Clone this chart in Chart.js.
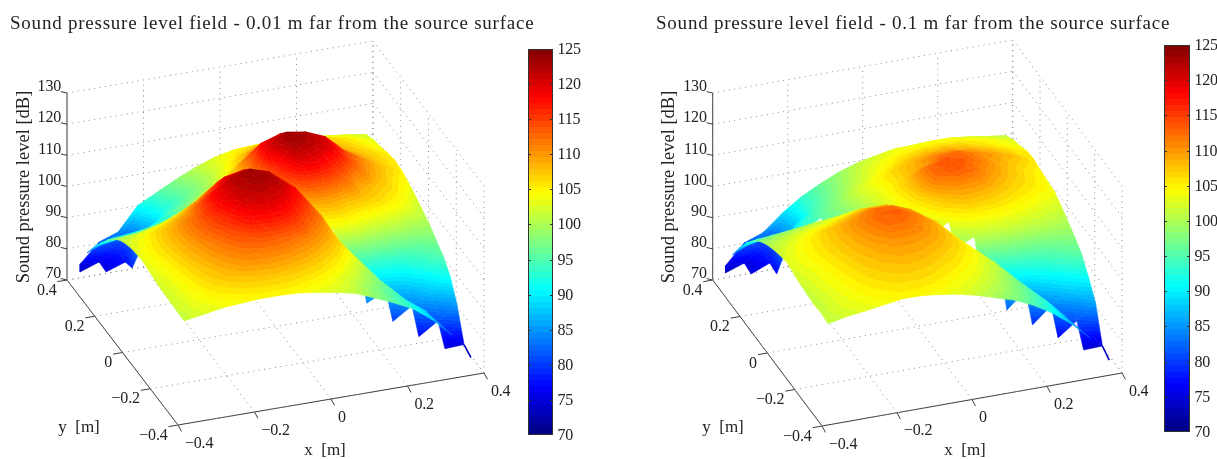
<!DOCTYPE html>
<html><head><meta charset="utf-8">
<style>
html,body{margin:0;padding:0;background:#fff;width:1217px;height:459px;overflow:hidden}
canvas{position:absolute;display:block}
</style>
<script src="https://cdn.jsdelivr.net/npm/chart.js@4"></script>
</head><body>
<div style="position:absolute;left:0;top:0;width:640px;height:459px"><canvas id="s1"></canvas></div>
<div style="position:absolute;left:640px;top:0;width:577px;height:459px"><canvas id="s2"></canvas></div>
<div style="position:absolute;left:528px;top:49px;width:25px;height:386px"><canvas id="c1"></canvas></div>
<div style="position:absolute;left:1164px;top:45px;width:26px;height:387px"><canvas id="c2"></canvas></div>
<script>
// ---- data -----------------------------------------------------------------
const xGrid = [-0.375,-0.325,-0.275,-0.225,-0.175,-0.125,-0.075,-0.025,0.025,0.075,0.125,0.175,0.225,0.275,0.325,0.375];
const yGrid = [-0.375,-0.325,-0.275,-0.225,-0.175,-0.125,-0.075,-0.025,0.025,0.075,0.125,0.175,0.225,0.275,0.325,0.375,0.375];
const xyTicks = [-0.4,-0.2,0,0.2,0.4];
const zTicks = [70,80,90,100,110,120,130];
const barTicks = [70,75,80,85,90,95,100,105,110,115,120,125];
const titleNear = 'Sound pressure level field - 0.01 m far from the source surface';
const titleFar = 'Sound pressure level field - 0.1 m far from the source surface';
// SPL [dB], one row per y, one column per x
const splNear = [
[101.4,102.4,103.5,104.0,104.4,104.4,104.1,103.2,102.2,100.8,98.3,95.7,92.7,88.2,82.3,74],
[101.5,103.5,105,106.3,107,107.2,106.8,105.8,104.3,102,99,96,92.5,88.1,75,75.3],
[101.7,104,106.5,108.5,110,110.5,110,108.8,107,104.5,101,97,90,77,81,85],
[101.8,104.5,107.3,110,112.2,113.5,113.3,112,110,107,103,95,80,84,87.5,91.4],
[102.1,105,108.3,111.3,114.5,118,118.5,117,113,109.5,101.5,84,87,88.5,92,95],
[102.7,105.5,109,113,116.5,120.5,121.5,120,116,111.2,89,93,93,93.5,95,97.1],
[103.2,106,109.5,113.5,118.5,121.8,122.8,122.3,118.3,97,103,103.5,102,101,100,99.4],
[102.9,105.8,109,112,118,122,123.5,121.6,100,108,110,108,107,105.8,103.8,101],
[102.2,105,107,109.5,114,119,120.3,103,111,119.5,118.5,114.5,109.5,107.5,105.5,102.6],
[100.9,102.5,104,106.5,110,114.6,98,104,116,123,122,119.5,114,109.5,106.5,103.9],
[98.6,99,100,102,105.4,95,100,106,120,123.5,122.5,120,114.5,110.5,107.5,105.1],
[95.4,95.5,96.5,98.4,92,97,101.5,108,118,120,118.5,115.5,112,109.5,107,105.4],
[91.5,92,93.3,90,94,100,104,108,113,115.5,114,112,110,108,106.5,104.8],
[87.3,89.2,78.5,91,94.5,97,100,104,109,111.5,111,110,108.7,107,105.5,103.8],
[82.5,75.4,77.5,84,92,95.5,99,103,106,107.8,108,107.8,107,106,104.7,103.1],
[73.5,75.7,78.5,89,94.7,97.8,100.6,102.8,104.2,104.6,104.8,104.6,104.2,103.6,102.9,101.9],
[76,82.1,84.3,91.6,94.7,97.8,100.6,102.8,104.2,104.6,104.8,104.6,104.2,103.6,102.9,101.9]
];
const splFar = [
[100.8,102,102.8,103.7,104.6,104.5,103.8,102.8,101.4,99.5,97.7,95,91.4,86.9,81.3,73.2],
[101.3,102.8,104,105,105.9,106,105.6,104.6,103.2,101.3,99,96,92.5,86.5,74.6,74.8],
[101,103,104.6,106,107,107.4,107,106,104.7,102.8,100,96.5,89.8,76.6,81,85.7],
[101.3,103.4,105,106.8,108,108.8,108.6,107.6,106,104,101,92.7,78.9,84,88,90.8],
[101.6,103.7,105.5,107.4,109,110,110,109.2,107.3,104.5,97.3,81.8,87,90,93,95.3],
[102.2,104,106,108,110,112,112,110.3,108,103.1,89,92.5,94,95,96.5,97.8],
[102.9,104.3,106.3,108.3,111,113,113.3,111,107.4,98,100.5,101.5,101.5,101,100.5,100],
[102.2,104,106,108.2,110,112,111.8,109.5,100,103.5,105.5,105.5,105,104,103,102],
[101.2,102.8,104.5,105.8,107.5,109,109.1,100,104,107.5,109.5,109,107.5,106,104.8,103.8],
[99.9,101.2,102.3,103.2,104.5,106,99,102.5,106.5,112,113.5,112.5,109.5,107.5,105.8,104.2],
[98,99,100,100.8,101.5,96,100,103.5,107.5,112.5,114,113,111,108.3,106.2,104.7],
[95.1,95.8,96.2,96.5,94,97.5,101,104,106.8,109.3,112,112.3,110.7,109.3,107.6,105.4],
[91.5,92,92.3,92,95.5,98.5,102,104.5,106.8,108.6,109.6,109.7,109,107.8,106.4,105.1],
[87,88.9,76.6,91,94.5,97.5,100.5,103,105,106.6,107.4,107.7,107.2,106.2,105,103.8],
[81.9,74.7,77.2,85,93,96.5,99.5,102,103.7,104.8,105.4,105.7,105.5,104.9,103.9,102.8],
[73.2,75.3,79,87,93.1,96.2,98.9,100.9,102.2,103.3,103.5,103.8,103.7,103,102.1,101.2],
[75.5,81.8,84,89,93.1,96.2,98.9,100.9,102.2,103.3,103.5,103.8,103.7,103,102.1,101.2]
];
// ---------------------------------------------------------------------------
const FONT='"Liberation Serif","DejaVu Serif",serif';
const zMin=70,zMax=130,cMin=70,cMax=125,nBands=64;

function jet(k){ // MATLAB jet(64)
  const t=(k+0.5)/nBands;
  const f=v=>Math.round(255*Math.max(0,Math.min(1,v)));
  return `rgb(${f(Math.min(4*t-1.5,-4*t+4.5))},${f(Math.min(4*t-0.5,-4*t+3.5))},${f(Math.min(4*t+0.5,-4*t+2.5))})`;
}
const bandOf=z=>Math.max(0,Math.min(nBands-1,Math.floor((z-cMin)/(cMax-cMin)*nBands)));
const edgeOf=k=>cMin+k*(cMax-cMin)/nBands;

// Colour a triangle by its heights: a linear canvas gradient is exact on a triangle.
function triPaint(ctx,p,z){
  const lo=Math.min(...z),hi=Math.max(...z);
  const ax=p[1].x-p[0].x,ay=p[1].y-p[0].y,bx=p[2].x-p[0].x,by=p[2].y-p[0].y;
  const dz1=z[1]-z[0],dz2=z[2]-z[0],det=ax*by-ay*bx;
  if(!isFinite(det)||hi-lo<1e-6||Math.abs(det)<1e-6) return jet(bandOf((lo+hi)/2));
  const gx=(dz1*by-dz2*ay)/det,gy=(dz2*ax-dz1*bx)/det,g2=gx*gx+gy*gy;
  const s=(lo-z[0])/g2,e=(hi-z[0])/g2;
  const gr=ctx.createLinearGradient(p[0].x+gx*s,p[0].y+gy*s,p[0].x+gx*e,p[0].y+gy*e);
  const k0=bandOf(lo),k1=bandOf(hi);
  for(let k=k0;k<=k1;k++){
    const a=k===k0?0:(edgeOf(k)-lo)/(hi-lo), b=k===k1?1:(edgeOf(k+1)-lo)/(hi-lo);
    gr.addColorStop(Math.max(0,Math.min(1,a)),jet(k));
    gr.addColorStop(Math.max(0,Math.min(1,b)),jet(k));
  }
  return gr;
}

function makePanel(cfg){
  const {id,left,grid,ox,oy,ex,ey,title,titleX,titleSpacing,xName,yName,zLabelX}=cfg;
  const kz=187/(zMax-zMin);
  const proj=(x,y,z)=>{
    const a=(x+0.4)/0.8,b=(y+0.4)/0.8;
    return {x:ox+ex[0]*a+ey[0]*b-left, y:oy+ex[1]*a+ey[1]*b-(z-zMin)*kz};
  };
  const depth=(x,y)=>Math.abs(ey[0])*x+Math.abs(ex[0])*y;
  const tris=[];
  const nx=xGrid.length,ny=yGrid.length;
  const addTri=(v)=>{
    tris.push({v,d:v.reduce((s,[i,j])=>s+depth(xGrid[i],yGrid[j])+j*0.001,0)/3});
  };
  for(let j=0;j<ny-1;j++)for(let i=0;i<nx-1;i++){
    const s=i+j;
    // the field is broken along the anti-diagonal: no cell joins the two sheets
    if(s<=13) addTri([[i,j],[i+1,j],[i,j+1]]);
    if(s<=12) addTri([[i+1,j],[i+1,j+1],[i,j+1]]);
    if(s>=15){ addTri([[i,j],[i+1,j],[i,j+1]]); addTri([[i+1,j],[i+1,j+1],[i,j+1]]); }
  }
  tris.sort((a,b)=>b.d-a.d); // far to near
  const paint=(c)=>{
    const ds=c.chart.data.datasets[c.datasetIndex];
    const sx=c.chart.scales.x,sy=c.chart.scales.y;
    if(!ds||!ds._z||!sx||!sy) return 'rgba(0,0,0,0)';
    const pts=ds.data.slice(0,3).map(q=>({x:sx.getPixelForValue(q.x),y:sy.getPixelForValue(q.y)}));
    if(pts.some(q=>!isFinite(q.x)||!isFinite(q.y))) return 'rgba(0,0,0,0)';
    return triPaint(c.chart.ctx,pts,ds._z);
  };
  // Chart.js paints the first dataset last, so nearest triangles go first
  const surf=tris.slice().reverse().map(t=>{
    const pts=t.v.map(([i,j])=>proj(xGrid[i],yGrid[j],grid[j][i]));
    return {data:[...pts,pts[0]],showLine:true,fill:'shape',tension:0,pointRadius:0,borderWidth:0.6,
      _z:t.v.map(([i,j])=>grid[j][i]),backgroundColor:paint,borderColor:paint};
  });
  // thin spike at the low corner of the surface
  const spike={data:[proj(xGrid[15],yGrid[0],grid[0][15]),proj(xGrid[15],yGrid[1],grid[1][15])],showLine:true,pointRadius:0,
    borderWidth:1.6,borderColor:jet(bandOf(grid[0][15])),fill:false,tension:0};
  const lines=[];
  const dotted=(a,b)=>lines.push({data:[a,b],showLine:true,pointRadius:0,borderWidth:1,borderColor:'#8a8a8a',borderDash:[1,4.5],fill:false,tension:0});
  const solid=(a,b,w)=>lines.push({data:[a,b],showLine:true,pointRadius:0,borderWidth:w||1,borderColor:'#3c3c3c',fill:false,tension:0});
  for(const t of xyTicks){
    dotted(proj(t,-0.4,zMin),proj(t,0.4,zMin));
    dotted(proj(-0.4,t,zMin),proj(0.4,t,zMin));
    dotted(proj(t,0.4,zMin),proj(t,0.4,zMax));
    dotted(proj(0.4,t,zMin),proj(0.4,t,zMax));
  }
  for(const t of zTicks){
    dotted(proj(-0.4,0.4,t),proj(0.4,0.4,t));
    dotted(proj(0.4,0.4,t),proj(0.4,-0.4,t));
  }
  solid(proj(-0.4,-0.4,zMin),proj(0.4,-0.4,zMin));
  solid(proj(-0.4,-0.4,zMin),proj(-0.4,0.4,zMin));
  solid(proj(-0.4,0.4,zMin),proj(-0.4,0.4,zMax));
  for(const t of xyTicks){
    solid(proj(t,-0.4,zMin),proj(t,-0.425,zMin-0.6));
    solid(proj(-0.4,t,zMin),proj(-0.425,t,zMin));
  }
  for(const t of zTicks){
    solid(proj(-0.4,0.4,t),proj(-0.412,0.412,t));
  }
  const labelPlugin={id:'labels',afterDraw(ch){
    const c=ch.ctx,sx=ch.scales.x,sy=ch.scales.y;
    const W=(v)=>sx.getPixelForValue(v),H=(v)=>sy.getPixelForValue(v);
    c.save();c.fillStyle='#222';c.textBaseline='middle';
    c.font='19px '+FONT;c.textAlign='left';c.letterSpacing=titleSpacing+'px';
    c.fillText(title,titleX-left,24);
    c.font='16px '+FONT;c.textAlign='left';c.letterSpacing='-0.2px';
    const fmt=v=>(v<0?'\u2212':'')+Math.abs(v);
    xyTicks.forEach(t=>{const q=proj(t,-0.4,zMin);c.fillText(fmt(t),W(q.x+7),H(q.y+18.5));});
    c.textAlign='right';
    xyTicks.forEach(t=>{const q=proj(-0.4,t,zMin);c.fillText(fmt(t),W(q.x-10.5),H(q.y+10.5));});
    zTicks.forEach(t=>{const q=proj(-0.4,0.4,t);c.fillText(String(t),W(q.x-6),H(q.y-6));});
    c.letterSpacing='0px';
    c.textAlign='center';c.font='17px '+FONT;
    c.fillText('x  [m]',xName-left,451);
    c.fillText('y  [m]',yName-left,428);
    c.font='18.5px '+FONT;
    c.translate(zLabelX-left,187);c.rotate(-Math.PI/2);
    c.fillText('Sound pressure level [dB]',0,0);
    c.restore();
  }};
  const cv=document.getElementById(id);
  return new Chart(cv,{type:'scatter',
    data:{datasets:[spike,...surf,...lines]},
    options:{animation:false,responsive:true,maintainAspectRatio:false,
      layout:{padding:0},
      plugins:{legend:{display:false},tooltip:{enabled:false},title:{display:false}},
      events:[],
      scales:{x:{type:'linear',display:false,min:0,max:cv.parentNode.clientWidth},
              y:{type:'linear',display:false,reverse:true,min:0,max:459}}},
    plugins:[labelPlugin]});
}

function makeBar(id){
  const cv=document.getElementById(id);
  const parent=cv.parentNode;
  const w=parent.clientWidth,h=parent.clientHeight;
  parent.style.width=(w+60)+'px';
  parent.style.top=(parseInt(parent.style.top)-12)+'px';
  parent.style.height=(h+24)+'px';
  const ds=[];
  for(let k=0;k<nBands;k++) ds.push({data:[[edgeOf(k),edgeOf(k+1)]],backgroundColor:jet(k),borderWidth:0,barPercentage:1,categoryPercentage:1,grouped:false});
  return new Chart(cv,{type:'bar',
    data:{labels:[''],datasets:ds},
    options:{animation:false,responsive:true,maintainAspectRatio:false,events:[],
      layout:{padding:{top:12,bottom:12,right:60}},
      plugins:{legend:{display:false},tooltip:{enabled:false}},
      scales:{x:{display:false},
              y:{display:false,min:cMin,max:cMax}}},
    plugins:[{id:'barFrame',afterDraw(ch){
      const c=ch.ctx,a=ch.chartArea,s=ch.scales.y;
      c.save();c.strokeStyle='#333';c.lineWidth=1;
      c.strokeRect(a.left+.5,a.top+.5,a.right-a.left-1,a.bottom-a.top-1);
      c.fillStyle='#222';c.font='16px '+FONT;c.textBaseline='middle';c.textAlign='left';c.letterSpacing='-0.2px';
      for(const v of barTicks){
        const y=Math.round(s.getPixelForValue(v))+.5;
        if(v!==cMin&&v!==cMax){c.beginPath();c.moveTo(a.left,y);c.lineTo(a.left+3,y);c.moveTo(a.right-3,y);c.lineTo(a.right,y);c.stroke();}
        c.fillText(String(v),a.right+4.5,y);
      }
      c.restore();
    }}]});
}

makePanel({id:'s1',left:0,grid:splNear,ox:178,oy:425,ex:[306,-52],ey:[-111,-145],title:titleNear,titleX:10,titleSpacing:0.77,
  xName:325,yName:79,zLabelX:24});
makePanel({id:'s2',left:640,grid:splFar,ox:822,oy:426,ex:[300,-53],ey:[-109.3,-146],title:titleFar,titleX:656,titleSpacing:0.77,
  xName:965,yName:723,zLabelX:669});
makeBar('c1');makeBar('c2');
</script>
</body></html>
